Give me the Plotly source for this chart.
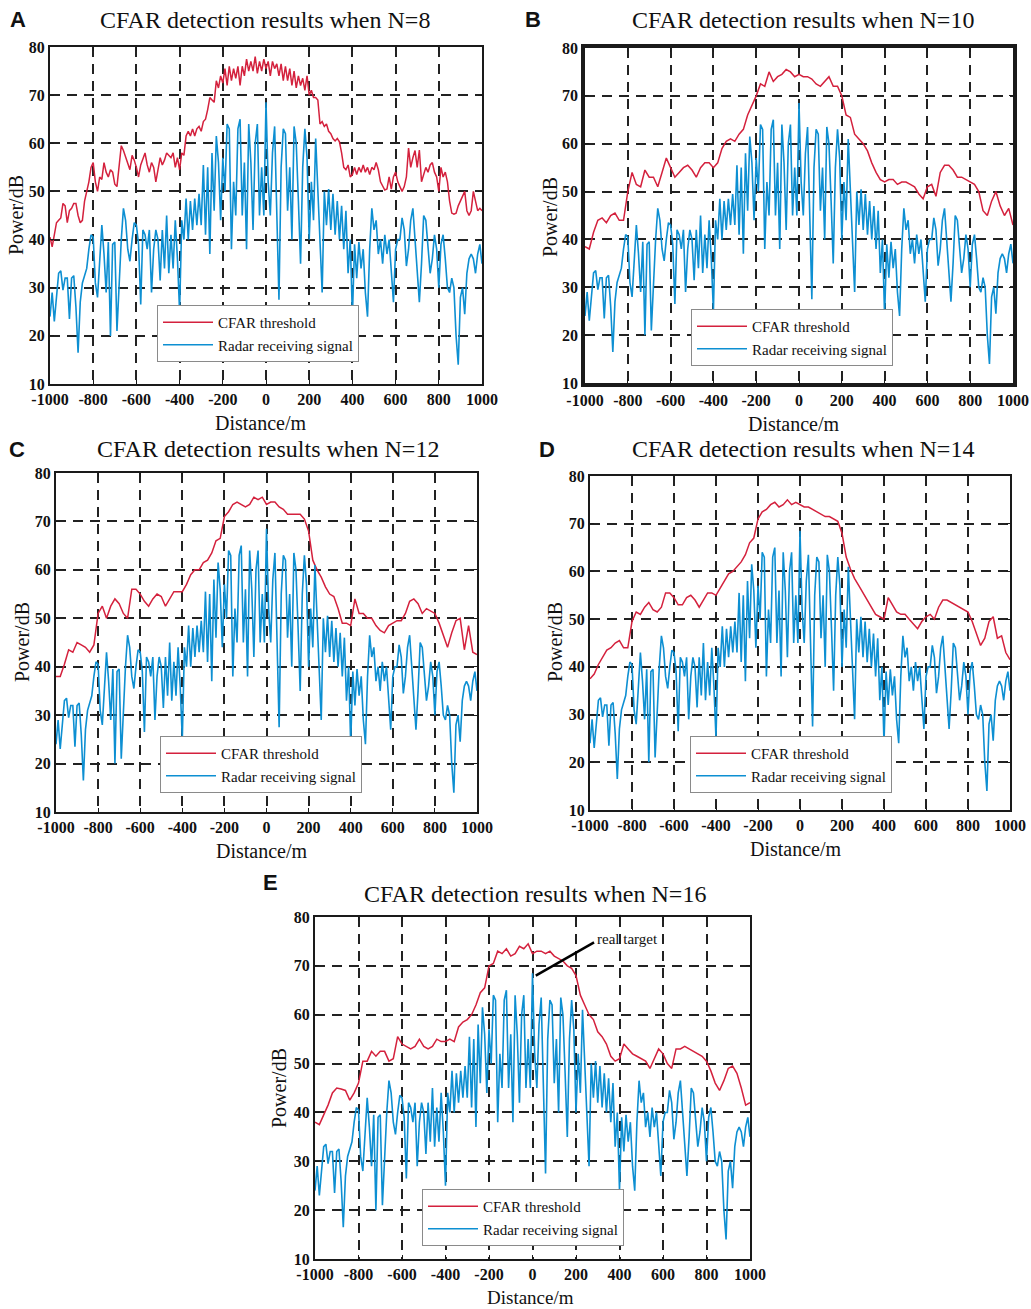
import numpy as np
import plotly.graph_objects as go

W, H = 1031, 1309

# ---------------- data ----------------
# Radar receiving signal (dB), sampled every 10 m from -1000 m to 1000 m
radar_signal = [
    24, 29, 23, 28, 33, 33.5, 29.5, 32, 32, 23.5,
    32, 32.5, 26, 16.5, 27, 31, 32.5, 34, 38, 41,
    40.5, 31, 28, 36, 43, 37, 29, 39.5, 20, 39,
    39.5, 21, 31, 40, 46.5, 44, 38, 35.5, 40, 43.5,
    43, 39, 26.5, 42, 41, 38, 42, 29, 38, 42,
    40, 31.5, 42, 34, 45, 33, 41, 34, 44, 36,
    25, 44, 40, 48.5, 40, 48, 42, 48.5, 43, 49.5,
    43, 55.5, 41, 55, 37, 58, 46, 61.5, 56, 44,
    57, 50, 64, 63, 38, 52, 45, 63, 65, 45,
    56, 38, 64, 56, 42, 60, 64, 45, 55, 45,
    68.5, 52, 45, 58, 63.5, 46, 27.5, 55, 63, 62,
    46, 55, 40, 63.5, 60, 48, 35, 55, 63, 57,
    40, 52, 44, 61, 50, 38, 29, 50, 43, 50.5,
    42, 49.5, 41, 48, 40, 47, 38, 46, 33, 40,
    24, 39, 32, 39.5, 34, 38, 29, 24, 38, 46.5,
    42, 44, 37, 40, 35, 41, 37, 40, 33, 27,
    38, 40, 40, 44.5, 42, 34.5, 38, 44, 46.5, 40,
    33, 27, 35, 45, 44, 38, 33, 36, 41, 38,
    30, 39, 41, 36, 30, 29, 32, 30, 20, 14,
    28, 30, 24.5, 33, 36, 37, 36, 33, 37, 39,
    35,
]

# CFAR thresholds (dB); N=8 every 10 m, others every 20 m
thr_n8 = [
    40.5, 38.5, 41, 43.5, 44, 44.5, 47.5, 47, 43.5, 46,
    46.5, 47.5, 47.5, 45, 43.5, 44, 48, 50, 52, 55,
    56, 52, 50, 53, 52.5, 56, 54, 53, 54.5, 54,
    51.5, 51, 55, 59.5, 58.5, 57, 56, 54.5, 57.5, 56.5,
    55, 53, 55.5, 57, 58, 55.5, 54, 56, 55, 52,
    55, 57, 55.5, 56.5, 58, 57.5, 57, 58, 55, 57,
    54.5, 58, 57.5, 61.5, 62.5, 61.5, 63, 61.5, 63, 63.5,
    62.5, 64.5, 65, 67, 69.5, 69, 68.5, 73, 71.5, 74,
    72.5, 75.5, 72, 76, 73, 75.5, 73.5, 76, 72, 76,
    74, 77.5, 75, 77, 75, 78, 74.5, 77, 75, 77.5,
    75.5, 77, 74, 77, 75.5, 76.5, 74, 76.5, 73, 76,
    73, 75.5, 72, 75, 71.5, 74, 72, 73.5, 71, 74,
    70, 71, 69.5, 69.5, 69, 64, 64.5, 63.5, 64, 62.5,
    62, 61, 60.5, 61, 60.3, 58, 55, 54.5, 55.5, 53,
    53.5, 55, 53.5, 55, 54, 55.5, 54, 55, 53.5, 55,
    54.5, 56, 54.5, 52, 51, 50.3, 50.5, 53, 50.5, 53,
    54, 52, 51, 50, 51, 53, 59, 55, 57, 58.5,
    55, 58.6, 52, 53.5, 55, 54, 55.5, 56, 54, 53,
    50, 55, 53, 54, 52, 48, 45.5, 45.3, 45.5, 47,
    48, 49, 50, 46, 45, 46, 50, 48, 46, 46.5,
    46,
]

thr_n10 = [
    38.5, 38, 41.5, 44, 44.5, 43.5, 45, 45.5, 44, 44,
    50, 54, 51.5, 51, 54.5, 53, 53, 51, 54, 57,
    55, 53, 54, 55, 55.5, 54.5, 53, 55, 56, 56,
    55, 56, 59, 60.5, 61, 60.5, 62, 63, 66, 68,
    70, 72.5, 72, 75, 73, 74, 74.5, 75.5, 75, 74,
    74.5, 74, 74, 73.5, 72.5, 72, 73, 74, 72, 72,
    70, 66, 65.5, 62, 61, 60, 58.5, 56, 54, 52.5,
    52, 52.5, 52.5, 51.5, 52, 52, 51.5, 51, 49.5, 48.5,
    51, 51.5, 49, 54, 55.5, 55.5, 54.5, 53, 53, 52.5,
    52, 51.5, 50, 46, 45, 48, 50, 47, 45, 46.5,
    43,
]

thr_n12 = [
    38, 38, 40.5, 43.5, 43, 45, 44.5, 44, 43, 44.5,
    51, 52.5, 50, 52.5, 54, 53, 51, 50, 56, 56,
    55, 53.5, 52.5, 54, 55, 54.5, 52.5, 54, 55.5, 55.5,
    55.5, 57, 59, 60, 60, 61.5, 62, 63.5, 66, 66.5,
    71, 72, 73.5, 74, 73.5, 73, 73.5, 75, 74.5, 75,
    73.5, 74, 74, 73, 72.5, 71.5, 71.5, 71.5, 71.5, 70.5,
    68, 62, 60, 58.5, 56.5, 55, 54.5, 52, 49, 49,
    48.5, 54, 51, 51, 50, 50, 48.5, 47.5, 47, 48.5,
    49, 49.5, 49.5, 51, 53.5, 54, 53, 51, 52, 51.5,
    51, 49, 46.5, 44, 47, 49.5, 50, 43.5, 48.5, 43,
    42.5,
]

thr_n14 = [
    37.5, 38.5, 40.5, 42, 43.5, 44, 45, 45.5, 44, 44,
    49.5, 51.5, 51, 52.5, 53.5, 52, 51.5, 52.5, 55.5, 55.5,
    54.5, 53, 53, 54.5, 55, 54, 52.5, 54, 55.5, 55.5,
    55, 56.5, 58, 59.5, 60, 61, 62, 63.5, 66, 67,
    71, 72.5, 73, 74, 74.5, 73.5, 74, 75, 74, 74.5,
    74, 73.5, 73.5, 73, 72.5, 72, 71.5, 71.5, 71, 70.5,
    68, 63, 60.5, 58.5, 57, 55.5, 54, 52.5, 51, 50.5,
    50, 54.5, 53, 51.5, 51, 51, 50, 49, 48, 49.5,
    50.5, 51, 50, 52.5, 54, 54, 53.5, 53, 52.5, 52,
    51.5, 49.5, 47, 44.5, 46, 49.5, 50.5, 46, 46.5, 43,
    41.5,
]

thr_n16 = [
    38, 37.5, 39.5, 41.5, 44, 45, 44.8, 44.5, 42.5, 44,
    46, 50.5, 50.5, 52.5, 51.5, 52.5, 52.5, 50.5, 51, 55.5,
    54, 53.5, 53, 53.5, 55, 53.5, 53, 53.5, 55, 54.5,
    54.5, 55, 54.5, 57.5, 58.5, 59, 60, 62, 64.5, 65.5,
    70, 70.5, 73, 72.5, 73.5, 72, 72.5, 74, 73.5, 74.5,
    72.5, 73, 73, 72.5, 73, 72, 71.5, 71, 70, 69.5,
    68, 64, 62, 60, 59, 56.5, 55.5, 54, 51.5, 50.5,
    51, 54, 53, 52, 51.5, 51, 50.5, 49, 51, 53,
    52, 50, 49, 53, 53, 53.5, 53, 52.5, 52, 51.5,
    50.5, 48.5, 46, 44.5, 46.5, 49, 49.5, 48, 45, 41.5,
    42,
]

x_ticks = [-1000, -800, -600, -400, -200, 0, 200, 400, 600, 800, 1000]
y_ticks = [10, 20, 30, 40, 50, 60, 70, 80]
legend_names = ["CFAR threshold", "Radar receiving signal"]
x_title = "Distance/m"
y_title = "Power/dB"

# ---------------- layout configuration ----------------
RED = "#d4213d"
BLUE = "#0d8fd2"
SERIF = "Liberation Serif, Times New Roman, serif"
SANS = "Liberation Sans, Arial, sans-serif"

panels = [
    dict(letter="A", n=8, thr=thr_n8, box=(50, 482, 47, 384), leg=(157, 305), title=(265, 20),
         lpos=(18, 20), fw=2, xt=(261, 423), yt=(16, 215)),
    dict(letter="B", n=10, thr=thr_n10, box=(585, 1013, 48, 383), leg=(691, 309), title=(803, 20),
         lpos=(533, 20), fw=3.5, xt=(794, 424), yt=(550, 217)),
    dict(letter="C", n=12, thr=thr_n12, box=(56, 477, 473, 812), leg=(160, 736), title=(268, 449),
         lpos=(17, 449), fw=2, xt=(262, 851), yt=(22, 642)),
    dict(letter="D", n=14, thr=thr_n14, box=(590, 1010, 476, 810), leg=(690, 736), title=(803, 449),
         lpos=(547, 449), fw=2, xt=(796, 849), yt=(555, 642)),
    dict(letter="E", n=16, thr=thr_n16, box=(315, 750, 917, 1259), leg=(422, 1189), title=(535, 894),
         lpos=(270, 882), fw=2, xt=(530, None), yt=(279, 1088)),
]

fig = go.Figure()
layout = dict(
    width=W, height=H,
    margin=dict(l=0, r=0, t=0, b=0, autoexpand=False),
    paper_bgcolor="white", plot_bgcolor="white",
    showlegend=True,
    annotations=[], shapes=[],
)

for i, p in enumerate(panels):
    k = "" if i == 0 else str(i + 1)
    xa, ya = "x" + k, "y" + k
    leg = "legend" + k
    thr = p["thr"]
    x_thr = np.linspace(-1000, 1000, len(thr))
    x_sig = np.linspace(-1000, 1000, len(radar_signal))
    fig.add_trace(go.Scatter(x=x_thr, y=thr, mode="lines", name=legend_names[0],
                             line=dict(color=RED, width=1.5), xaxis=xa, yaxis=ya, legend=leg))
    fig.add_trace(go.Scatter(x=x_sig, y=radar_signal, mode="lines", name=legend_names[1],
                             line=dict(color=BLUE, width=1.6), xaxis=xa, yaxis=ya, legend=leg))
    x0, x1, yt, yb = p["box"]
    common = dict(
        automargin=False,
        showline=True, linecolor="#1a1a1a", linewidth=p["fw"], mirror="ticks",
        ticks="inside", ticklen=4, tickcolor="#1a1a1a", tickwidth=1.2,
        showgrid=True, gridcolor="#222222", gridwidth=1.8, griddash="10px,7px",
        zeroline=False,
        tickfont=dict(family=SERIF, size=16, color="#111", weight="bold"),
    )
    layout["xaxis" + k] = dict(
        common, domain=[x0 / W, x1 / W], anchor=ya, range=[-1000, 1000],
        tickmode="array", tickvals=x_ticks, ticktext=[str(v) for v in x_ticks],
    )
    layout["yaxis" + k] = dict(
        common, domain=[1 - yb / H, 1 - yt / H], anchor=xa, range=[10, 80],
        tickmode="array", tickvals=y_ticks, ticktext=[str(v) for v in y_ticks],
    )
    lx, ly = p["leg"]
    layout[leg] = dict(
        x=lx / W, y=1 - ly / H, xanchor="left", yanchor="top",
        xref="paper", yref="paper",
        bgcolor="white", bordercolor="#8a8a8a", borderwidth=1,
        font=dict(family=SERIF, size=15, color="#111"),
        itemwidth=50, tracegroupgap=0,
    )
    tx, ty = p["title"]
    layout["annotations"].append(dict(
        x=tx / W, y=1 - ty / H, xref="paper", yref="paper", showarrow=False,
        text=f"CFAR detection results when N={p['n']}",
        font=dict(family=SERIF, size=24, color="#111"), xanchor="center", yanchor="middle",
    ))
    lxp, lyp = p["lpos"]
    layout["annotations"].append(dict(
        x=lxp / W, y=1 - lyp / H, xref="paper", yref="paper", showarrow=False,
        text=f"<b>{p['letter']}</b>",
        font=dict(family=SANS, size=22, color="#111"), xanchor="center", yanchor="middle",
    ))
    # axis titles
    xtx, xty = p["xt"]
    if xty is None:
        layout["annotations"].append(dict(
            x=xtx / W, y=0, xref="paper", yref="paper", showarrow=False,
            text=x_title, font=dict(family=SERIF, size=19, color="#111"),
            xanchor="center", yanchor="bottom", borderpad=0,
        ))
    else:
        layout["annotations"].append(dict(
            x=xtx / W, y=1 - xty / H, xref="paper", yref="paper", showarrow=False,
            text=x_title, font=dict(family=SERIF, size=20, color="#111"),
            xanchor="center", yanchor="middle",
        ))
    ytx, yty = p["yt"]
    layout["annotations"].append(dict(
        x=ytx / W, y=1 - yty / H, xref="paper", yref="paper", showarrow=False,
        text=y_title, textangle=-90, font=dict(family=SERIF, size=20, color="#111"),
        xanchor="center", yanchor="middle",
    ))

# "real target" marker in panel E
target_line = dict(x0=15, y0=68, x1=283, y1=74.8)
layout["shapes"].append(dict(type="line", xref="x5", yref="y5", line=dict(color="black", width=2.5),
                             **target_line))
layout["annotations"].append(dict(x=286, y=75.6, xref="x5", yref="y5", showarrow=False,
                                  text="real target", xanchor="left", yanchor="middle",
                                  font=dict(family=SERIF, size=15, color="#111")))

fig.update_layout(**layout)
fig.write_html("out.html")
